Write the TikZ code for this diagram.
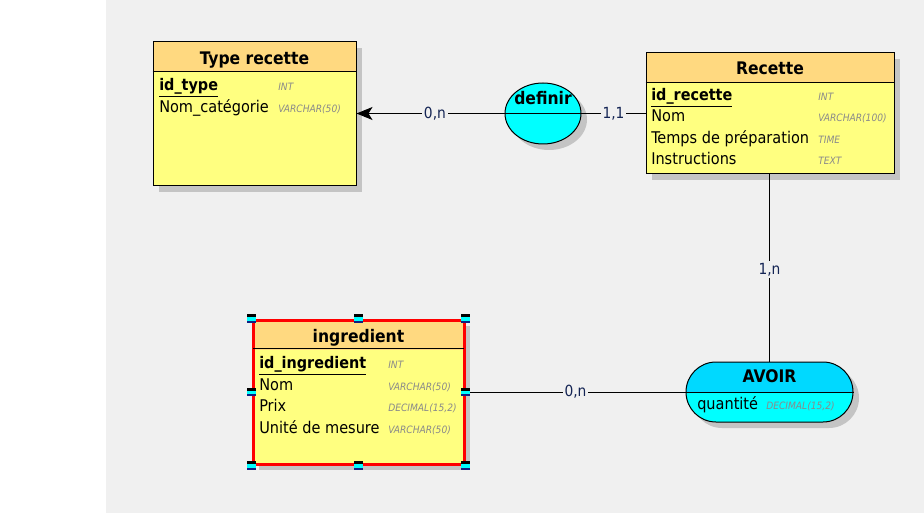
\documentclass[tikz,border=0pt]{standalone}
\usepackage{fontspec}
\setmainfont{DejaVu Sans Condensed}
\usetikzlibrary{shapes.geometric,shapes.misc,arrows.meta,shadows}
\definecolor{bg}{HTML}{F0F0F0}
\definecolor{hdr}{HTML}{FFD980}
\definecolor{bodyc}{HTML}{FFFF80}
\definecolor{cyanA}{HTML}{00D9FF}
\definecolor{cyanB}{HTML}{00FFFF}
\definecolor{lblc}{HTML}{142454}
\definecolor{typc}{HTML}{8A8A8A}
\definecolor{shdc}{HTML}{C4C4C4}
\definecolor{navyH}{HTML}{102080}
\begin{document}
\begin{tikzpicture}[x=0.75pt,y=-0.75pt,
  shadowed/.style={drop shadow={shadow xshift=4.5pt,shadow yshift=-4.5pt,fill=shdc,opacity=1}},
  tbl/.style={rectangle,draw=black,line width=0.75pt,fill=bodyc,shadowed,inner sep=0pt,
    path picture={\fill[hdr] (path picture bounding box.north west) rectangle ([yshift=-22.5pt]path picture bounding box.north east);}},
  hdrtxt/.style={anchor=base,inner sep=0pt,font=\bfseries\fontsize{13}{15}\selectfont},
  rowtxt/.style={anchor=base west,inner sep=0pt,font=\fontsize{12.1}{14}\selectfont},
  keytxt/.style={rowtxt,font=\bfseries\fontsize{12}{14}\selectfont},
  typtxt/.style={anchor=base west,inner sep=0pt,text=typc,font=\itshape\fontsize{7.6}{9}\selectfont},
  conn/.style={draw=black,line width=0.75pt},
  lbl/.style={fill=bg,inner sep=1.5pt,text=lblc,font=\fontsize{11.5}{13}\selectfont},
  handle/.style={rectangle,minimum width=6.5pt,minimum height=6.5pt,inner sep=0pt,fill=cyanB,
    path picture={\fill[black] (path picture bounding box.north west) rectangle ([yshift=-2.25pt]path picture bounding box.north east);
                  \fill[navyH] (path picture bounding box.south west) rectangle ([yshift=1.5pt]path picture bounding box.south east);}}
]
\useasboundingbox (0,0) rectangle (924,513);
\fill[white] (0,0) rectangle (924,513);
\fill[bg] (106,0) rectangle (924,513);

% Type recette
\node[tbl,minimum width=152.25pt,minimum height=108pt] (typerec) at (254.5,114) {};
\draw[line width=0.75pt] ([yshift=-22.5pt]typerec.north west) -- ([yshift=-22.5pt]typerec.north east);
\node[hdrtxt] (typerecH) at (254.5,65) {Type recette};
\node[keytxt] (tr1) at (159,91) {\underline{id\_type}};
\node[typtxt] (tr1t) at (278,91) {INT};
\node[rowtxt] (tr2) at (159,112.5) {Nom\_catégorie};
\node[typtxt] (tr2t) at (278,112.5) {VARCHAR(50)};

% Recette
\node[tbl,minimum width=186pt,minimum height=90.75pt] (recette) at (770,113.5) {};
\draw[line width=0.75pt] ([yshift=-22.5pt]recette.north west) -- ([yshift=-22.5pt]recette.north east);
\node[hdrtxt] (recetteH) at (770,75) {Recette};
\node[keytxt] (r1) at (651,100.5) {\underline{id\_recette}};
\node[typtxt] (r1t) at (818,100.5) {INT};
\node[rowtxt] (r2) at (651,122) {Nom};
\node[typtxt] (r2t) at (818,122) {VARCHAR(100)};
\node[rowtxt] (r3) at (651,143.5) {Temps de préparation};
\node[typtxt] (r3t) at (818,143.5) {TIME};
\node[rowtxt] (r4) at (651,165) {Instructions};
\node[typtxt] (r4t) at (818,165) {TEXT};

% definir
\node[ellipse,draw=black,line width=0.75pt,fill=cyanB,shadowed,minimum width=57pt,minimum height=45.75pt,inner sep=0pt] (definir) at (543,113.5) {};
\node[hdrtxt] (definirH) at (543,104.5) {definir};

% ingredient
\node[tbl,draw=red,line width=2.25pt,minimum width=158.25pt,minimum height=108pt] (ingr) at (358.5,392) {};
\draw[line width=0.75pt] ([yshift=-22.5pt,xshift=1pt]ingr.north west) -- ([yshift=-22.5pt,xshift=-1pt]ingr.north east);
\node[hdrtxt] (ingrH) at (358.5,342.5) {ingredient};
\node[keytxt] (i1) at (259,368.5) {\underline{id\_ingredient}};
\node[typtxt] (i1t) at (388,368.5) {INT};
\node[rowtxt] (i2) at (259,390) {Nom};
\node[typtxt] (i2t) at (388,390) {VARCHAR(50)};
\node[rowtxt] (i3) at (259,411.5) {Prix};
\node[typtxt] (i3t) at (388,411.5) {DECIMAL(15,2)};
\node[rowtxt] (i4) at (259,433) {Unité de mesure};
\node[typtxt] (i4t) at (388,433) {VARCHAR(50)};

% AVOIR
\node[rounded rectangle,draw=black,line width=0.75pt,fill=cyanB,shadowed,minimum width=125.25pt,minimum height=45pt,inner sep=0pt,
  path picture={\fill[cyanA] (path picture bounding box.north west) rectangle (path picture bounding box.east);}] (avoir) at (769.5,392) {};
\draw[line width=0.75pt] (avoir.west) -- (avoir.east);
\node[hdrtxt] (avoirH) at (769.5,382.5) {AVOIR};
\node[rowtxt] (a1) at (697,409) {quantité};
\node[typtxt] (a1t) at (766,409) {DECIMAL(15,2)};

% connectors
\draw[conn,-{Stealth[length=12pt,width=9.75pt,inset=3pt]}] (definir.west) -- node[lbl,pos=0.47] (l1) {0,n} (typerec.east |- definir.west);
\draw[conn] (definir.west) -- (definir.east);
\draw[conn] (definir.east) -- node[lbl] (l2) {1,1} (recette.west |- definir.east);
\draw[conn] (avoir.north) -- node[lbl,pos=0.49] (l3) {1,n} (avoir.north |- recette.south);
\draw[conn] (ingr.east) -- node[lbl] (l4) {0,n} (avoir.west);

% selection handles
\node[handle] (h1) at (ingr.north west) {};
\node[handle] (h2) at (ingr.north) {};
\node[handle] (h3) at (ingr.north east) {};
\node[handle] (h4) at (ingr.west) {};
\node[handle] (h5) at (ingr.east) {};
\node[handle] (h6) at (ingr.south west) {};
\node[handle] (h7) at (ingr.south) {};
\node[handle] (h8) at (ingr.south east) {};
\end{tikzpicture}
\end{document}
